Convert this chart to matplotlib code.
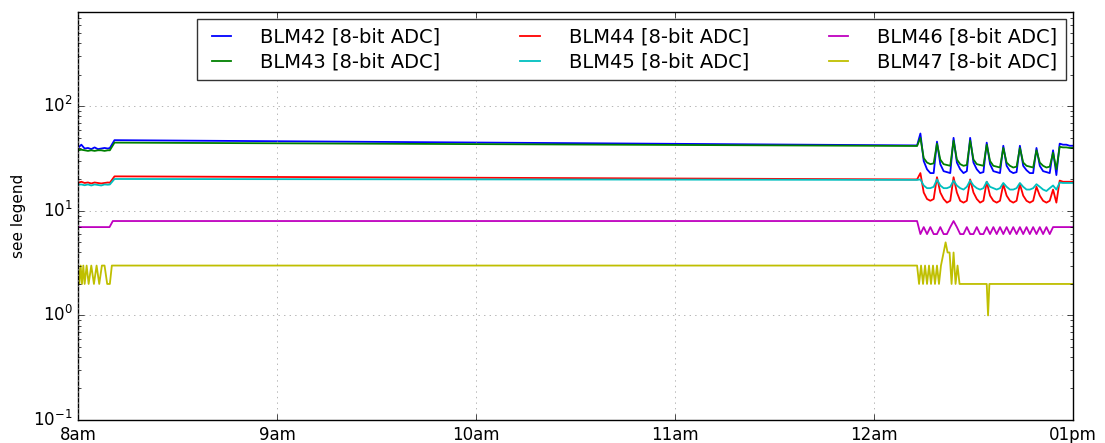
import numpy as np
import matplotlib
matplotlib.use("Agg")
import matplotlib.pyplot as plt

# time axis: minutes after 08:00
# start of shift (before the step at ~8:10)
t_left = [0, 1, 2, 3, 4, 5, 6, 7, 8, 9, 9.6, 11]
blm42_left = [40, 43, 39.5, 40, 39, 40.5, 39, 39.5, 40, 39.5, 40, 47.5]
blm43_left = [38, 38.5, 38, 37.5, 38, 37.5, 38, 38, 37.5, 38, 38, 45]
blm44_left = [18.5, 19, 18.5, 18.7, 18.3, 18.7, 18.5, 18.3, 18.5, 18.7, 18.6, 21.4]
blm45_left = [17.8, 17.9, 17.6, 17.9, 17.5, 17.9, 17.7, 17.5, 17.9, 17.8, 17.9, 20.2]

# long quiet stretch
t_mid = [11, 253]
blm42_mid = [47.5, 42.3]
blm43_mid = [45, 41.8]
blm44_mid = [21.4, 20.0]
blm45_mid = [20.2, 19.8]

# end of shift, sampled once a minute
t_right = list(range(253, 301))
blm42_right = [42.3,
               55, 30, 25, 23, 23,
               46, 28, 24, 23.5, 23,
               50, 29, 25, 23, 24,
               50, 29, 25, 23, 23.5,
               45, 28, 24, 23.5, 23,
               42, 27, 24, 23, 23.5,
               42, 27, 24.5, 23, 23,
               40, 27, 24, 23.5, 23,
               38, 22, 44, 43, 43, 42, 42]
blm43_right = [41.8,
               50, 32, 29, 28, 28.5,
               44, 31, 28, 27.5, 27,
               47, 31, 28, 27, 27.5,
               47, 31, 28, 27.5, 27,
               43, 30, 27, 26.5, 26,
               40, 29, 27, 26, 26.5,
               40, 29, 27, 26.5, 26,
               38, 29, 27, 26, 26.5,
               36, 25, 41, 40.5, 40.5, 40, 40]
blm44_right = [20.0,
               23, 15, 13, 12.5, 13,
               21, 15, 13, 12, 12.5,
               21, 15, 12.5, 12, 12.5,
               20, 15, 13, 12, 12.5,
               19, 14, 12.5, 12, 12.5,
               18, 14, 12.5, 12, 12.5,
               18, 14, 12.5, 12, 12.5,
               17, 14, 12.5, 12, 12.5,
               16, 12, 19.5, 19, 19, 19, 19]
blm45_right = [19.8,
               20, 17.5, 16.5, 16.5, 17,
               20, 17.5, 16.5, 16.5, 17,
               19.5, 17.5, 16.5, 16, 17,
               19.5, 17.5, 16.5, 16, 16.5,
               19, 17, 16.5, 16, 16.5,
               18.5, 17, 16, 16, 16.5,
               18.5, 17, 16, 16, 16.5,
               18, 17, 16, 15.5, 16.5,
               17.5, 16, 18.7, 18.5, 18.5, 18.5, 18.5]

# integer-valued channels
t_blm46 = [0, 9.5, 10.5, 253, 254, 255, 256, 257, 258, 259, 260, 261, 262,
           263, 264, 265, 266, 267, 268, 269, 270, 271, 272, 273, 274, 275,
           276, 277, 278, 279, 280, 281, 282, 283, 284, 285, 286, 287, 288,
           289, 290, 291, 292, 293, 294, 295, 300]
blm46 = [7, 7, 8, 8, 6, 7, 6, 7, 6, 6, 7, 6, 6,
         7, 8, 7, 6, 6, 7, 6, 6, 7, 6, 6, 7, 6,
         7, 6, 7, 6, 7, 6, 7, 6, 7, 6, 7, 6, 7,
         6, 7, 6, 7, 6, 7, 7, 7]

t_blm47 = [0, 0.4, 0.8, 1.2, 1.6, 2.0, 2.6, 3.2, 4.0, 4.8, 5.6,
           6.4, 7.2, 8.0, 8.8, 9.6, 10.2,
           253, 253.6, 254.2, 254.8, 255.4, 256.0, 256.6, 257.2, 257.8,
           258.4, 259.0, 259.6, 260.2, 261.0, 261.6, 262.2, 262.8, 263.4,
           264.0, 264.6, 265.2, 265.8, 266.4, 267.0,
           274.0, 274.4, 274.8, 300]
blm47 = [3, 2, 3, 2, 3, 2, 3, 2, 3, 2, 3,
         2, 3, 3, 2, 2, 3,
         3, 2, 3, 2, 3, 2, 3, 2, 3,
         2, 3, 2, 3, 4, 5, 4, 4, 2,
         4, 2, 3, 2, 2, 2,
         2, 1, 2, 2]

hour_ticks = [8, 9, 10, 11, 12, 13]
hour_labels = ["8am", "9am", "10am", "11am", "12am", "01pm"]


def to_hours(minutes):
    return 8 + np.asarray(minutes, dtype=float) / 60.0


def join(*parts):
    t = np.concatenate([np.asarray(p[0], dtype=float) for p in parts])
    v = np.concatenate([np.asarray(p[1], dtype=float) for p in parts])
    return to_hours(t), v


plt.style.use("classic")
fig = plt.figure(figsize=(11.05, 4.43), dpi=100, facecolor="white")
ax = fig.add_axes([0.0706, 0.052, 0.9004, 0.921])

series = [
    ("BLM42 [8-bit ADC]", "b", join((t_left, blm42_left), (t_mid[1:], blm42_mid[1:]), (t_right[1:], blm42_right[1:]))),
    ("BLM43 [8-bit ADC]", "g", join((t_left, blm43_left), (t_mid[1:], blm43_mid[1:]), (t_right[1:], blm43_right[1:]))),
    ("BLM44 [8-bit ADC]", "r", join((t_left, blm44_left), (t_mid[1:], blm44_mid[1:]), (t_right[1:], blm44_right[1:]))),
    ("BLM45 [8-bit ADC]", "c", join((t_left, blm45_left), (t_mid[1:], blm45_mid[1:]), (t_right[1:], blm45_right[1:]))),
    ("BLM46 [8-bit ADC]", "m", (to_hours(t_blm46), np.array(blm46, float))),
    ("BLM47 [8-bit ADC]", "y", (to_hours(t_blm47), np.array(blm47, float))),
]

for label, color, (x, y) in series:
    ax.plot(x, y, color=color, lw=1.3, label=label)

ax.set_yscale("log")
ax.set_ylim(0.1, 800)
ax.set_xlim(8, 13)
ax.set_xticks(hour_ticks)
ax.set_xticklabels(hour_labels)
ax.set_ylabel("see legend", fontsize=11)
ax.tick_params(axis="both", labelsize=12)
ax.grid(True, which="major", color="0.6", linestyle=":")

# legend in three columns across the top
leg = ax.legend(loc="upper right", ncol=3, fontsize=14, borderaxespad=0.35,
                handlelength=1.6, handletextpad=1.2, columnspacing=3.8,
                borderpad=0.45, labelspacing=0.3, fancybox=False)
leg.get_frame().set_edgecolor("0.2")

fig.savefig("out.png", dpi=100, facecolor="white")
